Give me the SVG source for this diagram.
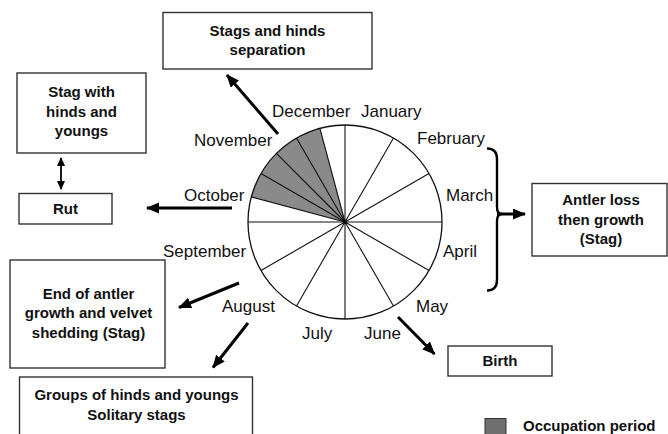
<svg xmlns="http://www.w3.org/2000/svg" width="668" height="434" viewBox="0 0 668 434">
<defs>
<style>
.box{fill:#fff;stroke:#333;stroke-width:1.4}
.bt{font-family:"Liberation Sans",Arial,sans-serif;font-weight:bold;font-size:15px;fill:#111;text-anchor:middle}
.mt{font-family:"Liberation Sans",Arial,sans-serif;font-size:17px;fill:#111}
.arr{stroke:#000;stroke-width:3;fill:none;marker-end:url(#ah)}
.spoke{stroke:#111;stroke-width:1.1}
</style>
<marker id="ah" markerUnits="userSpaceOnUse" markerWidth="14" markerHeight="12" refX="12" refY="5.5" orient="auto">
<path d="M0,0 L13,5.5 L0,11 Z" fill="#000"/>
</marker>
<marker id="ahs" markerUnits="userSpaceOnUse" markerWidth="10" markerHeight="10" refX="8" refY="4" orient="auto-start-reverse">
<path d="M0,0 L9,4 L0,8 Z" fill="#000"/>
</marker>
</defs>
<rect width="668" height="434" fill="#fff"/>

<g id="pie">
<path d="M345,222 L251.3,196.9 A97,97 0 0 1 319.9,128.3 Z" fill="#8a8a8a"/>
<circle cx="345" cy="222" r="97" fill="none" stroke="#111" stroke-width="1.3"/>
<line class="spoke" x1="345" y1="222" x2="345" y2="125"/>
<line class="spoke" x1="345" y1="222" x2="393.5" y2="138"/>
<line class="spoke" x1="345" y1="222" x2="429" y2="173.5"/>
<line class="spoke" x1="345" y1="222" x2="442" y2="222"/>
<line class="spoke" x1="345" y1="222" x2="429" y2="270.5"/>
<line class="spoke" x1="345" y1="222" x2="393.5" y2="306"/>
<line class="spoke" x1="345" y1="222" x2="345" y2="319"/>
<line class="spoke" x1="345" y1="222" x2="296.5" y2="306"/>
<line class="spoke" x1="345" y1="222" x2="261" y2="270.5"/>
<line class="spoke" x1="345" y1="222" x2="248" y2="222"/>
<line class="spoke" x1="345" y1="222" x2="251.3" y2="196.9"/>
<line class="spoke" x1="345" y1="222" x2="261" y2="173.5"/>
<line class="spoke" x1="345" y1="222" x2="276.4" y2="153.4"/>
<line class="spoke" x1="345" y1="222" x2="296.5" y2="138"/>
<line class="spoke" x1="345" y1="222" x2="319.9" y2="128.3"/>
<circle cx="345" cy="222" r="2.2" fill="#000"/>
</g>

<g id="months">
<text class="mt" x="272" y="117">December</text>
<text class="mt" x="361" y="117">January</text>
<text class="mt" x="417" y="144">February</text>
<text class="mt" x="446" y="201">March</text>
<text class="mt" x="443" y="257">April</text>
<text class="mt" x="416" y="312">May</text>
<text class="mt" x="364" y="339">June</text>
<text class="mt" x="302" y="339">July</text>
<text class="mt" x="222" y="312">August</text>
<text class="mt" x="163" y="257">September</text>
<text class="mt" x="184" y="201">October</text>
<text class="mt" x="194" y="146">November</text>
</g>

<g id="separation">
<rect class="box" x="163" y="12.5" width="209" height="56.5"/>
<text class="bt" x="267.5" y="36">Stags and hinds</text>
<text class="bt" x="267.5" y="55">separation</text>
</g>

<g id="stagwith">
<rect class="box" x="17" y="73" width="129" height="80"/>
<text class="bt" x="81.5" y="97">Stag with</text>
<text class="bt" x="81.5" y="116.5">hinds and</text>
<text class="bt" x="81.5" y="135.5">youngs</text>
</g>

<g id="rut">
<rect class="box" x="19" y="193.5" width="93" height="30.5"/>
<text class="bt" x="65.5" y="213.5">Rut</text>
</g>

<g id="antler">
<rect class="box" x="532" y="183.5" width="135" height="72.5"/>
<text class="bt" x="601" y="205">Antler loss</text>
<text class="bt" x="601" y="224.5">then growth</text>
<text class="bt" x="601" y="243.5">(Stag)</text>
</g>

<g id="endantler">
<rect class="box" x="10" y="260" width="155" height="108"/>
<text class="bt" x="88.5" y="298.5">End of antler</text>
<text class="bt" x="88.5" y="318">growth and velvet</text>
<text class="bt" x="88.5" y="337.5">shedding (Stag)</text>
</g>

<g id="groups">
<rect class="box" x="19.5" y="377" width="233" height="70"/>
<text class="bt" x="136.5" y="400">Groups of hinds and youngs</text>
<text class="bt" x="136.5" y="419.5">Solitary stags</text>
</g>

<g id="birth">
<rect class="box" x="448" y="346" width="104" height="30"/>
<text class="bt" x="500" y="366">Birth</text>
</g>

<g id="legend">
<rect x="485" y="418.5" width="21" height="20" fill="#6f6f6f" stroke="#333" stroke-width="1"/>
<text class="bt" x="523" y="431" style="text-anchor:start">Occupation period</text>
</g>

<g id="connectors">
<path d="M487,148.5 Q497,148.5 497,159 L497,207 Q497,214 502,214 Q497,214 497,221 L497,280 Q497,290.5 487,290.5" fill="none" stroke="#000" stroke-width="2.4"/>
<line class="arr" x1="497" y1="214" x2="525" y2="214"/>
<line class="arr" x1="278" y1="134" x2="227" y2="75"/>
<line class="arr" x1="232" y1="208" x2="147" y2="208"/>
<line x1="61" y1="158" x2="61" y2="189" stroke="#000" stroke-width="1.8" marker-start="url(#ahs)" marker-end="url(#ahs)"/>
<line class="arr" x1="239" y1="283" x2="179" y2="307.5"/>
<line class="arr" x1="248" y1="323" x2="213" y2="367.5"/>
<line class="arr" x1="398" y1="317" x2="434.5" y2="354"/>
</g>
</svg>
